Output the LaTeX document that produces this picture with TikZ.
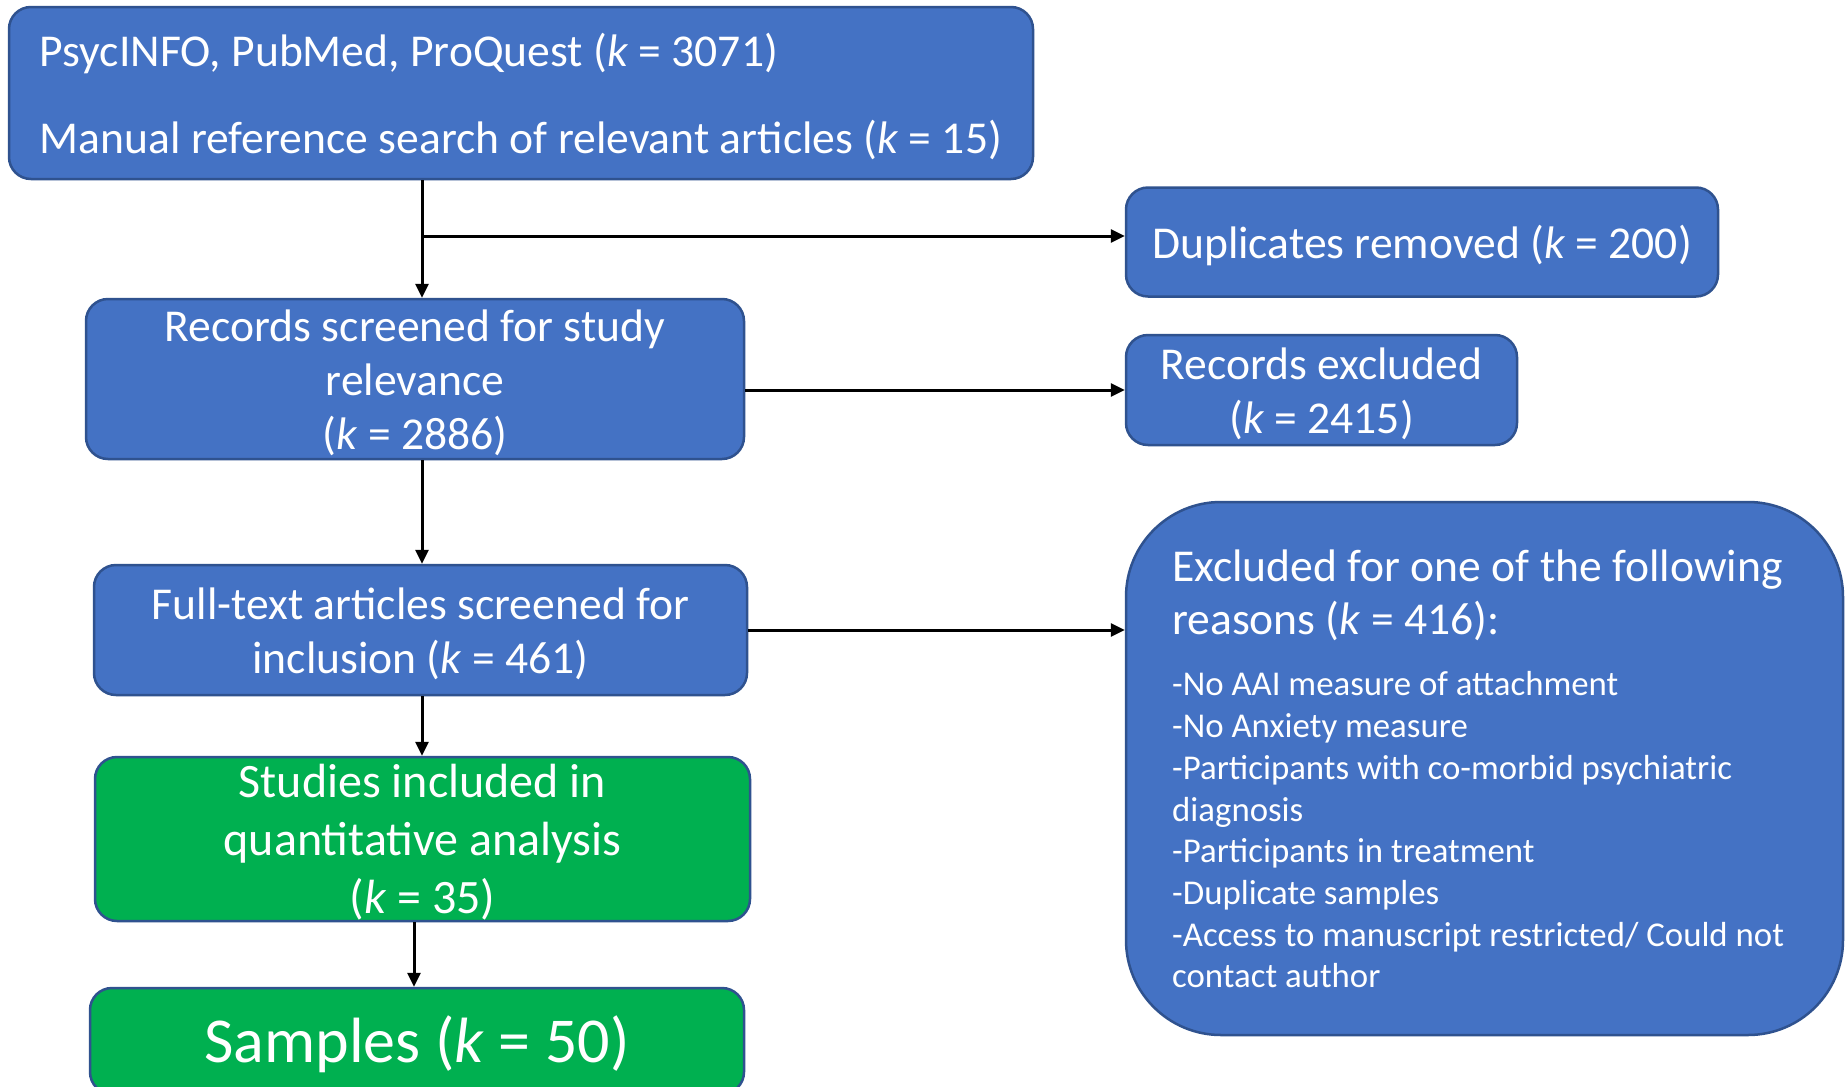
\documentclass[tikz,border=0pt]{standalone}
\usepackage{fontspec}
\setmainfont{Carlito}
\usetikzlibrary{arrows.meta}
\definecolor{blu}{HTML}{4472C4}
\definecolor{grn}{HTML}{00B050}
\definecolor{bordc}{HTML}{2F528F}
\begin{document}
\begin{tikzpicture}[x=1pt,y=-1pt,
  box/.style={draw=bordc, line width=2.5pt, fill=blu, rounded corners=22pt, inner sep=0pt},
  gbox/.style={box, fill=grn},
  lbl/.style={text=white, align=center, inner sep=0pt, yshift=-3.5pt},
  txt/.style={font=\fontsize{45.6}{54}\selectfont},
  arr/.style={line width=3pt, -{Triangle[length=14pt,width=13pt]}}
]
\useasboundingbox (0,0) rectangle (1845,1087);
\fill[white] (0,0) rectangle (1845,1087);

\node[box, minimum width=1024, minimum height=172] (top) at (521,93) {};
\node[lbl, txt, align=left] (topt) at (top.center)
  {PsycINFO, PubMed, ProQuest (\textit{k} = 3071)\\[33pt]
   Manual reference search of relevant articles (\textit{k} = 15)};
\node[box, minimum width=592, minimum height=109] (dup) at (1422,242) {};
\node[lbl, txt] (dupt) at (dup.center) {Duplicates removed (\textit{k} = 200)};
\node[box, minimum width=658, minimum height=160] (rs) at (415,379) {};
\node[lbl, txt] (rst) at (rs.center)
  {Records screened for study\\ relevance\\ (\textit{k} = 2886)};
\node[box, minimum width=391, minimum height=110] (rex) at (1321.5,390) {};
\node[lbl, txt] (rext) at (rex.center) {Records excluded\\ (\textit{k} = 2415)};
\node[box, minimum width=653, minimum height=130] (ft) at (420.5,630) {};
\node[lbl, txt] (ftt) at (ft.center)
  {Full-text articles screened for\\ inclusion (\textit{k} = 461)};
\node[box, rounded corners=95pt, minimum width=717, minimum height=533] (ex) at (1484.5,768.5) {};
\node[text=white, align=left, anchor=west, inner sep=0pt, font=\fontsize{34.8}{41.7}\selectfont] (extxt) at (1172,769)
  {{\fontsize{45.6}{54}\selectfont Excluded for one of the following}\\[11pt]
   {\fontsize{45.6}{54}\selectfont reasons (\textit{k} = 416):}\\[20pt]
   -No AAI measure of attachment\\
   -No Anxiety measure\\
   -Participants with co-morbid psychiatric\\
   diagnosis\\
   -Participants in treatment\\
   -Duplicate samples\\
   -Access to manuscript restricted/ Could not\\
   contact author};
\node[gbox, minimum width=655, minimum height=164] (st) at (422.5,839) {};
\node[lbl, font=\fontsize{48}{58}\selectfont] (stt) at (st.center)
  {Studies included in\\ quantitative analysis\\ (\textit{k} = 35)};
\node[gbox, minimum width=654, minimum height=106] (sa) at (417,1041) {};
\node[lbl, font=\fontsize{64}{70}\selectfont] (sat) at (sa.center) {Samples (\textit{k} = 50)};

\coordinate (a1) at (422,0);
\coordinate (b1) at (422,236);
\coordinate (a2) at (0,390);
\coordinate (a3) at (414,0);
\draw[arr] (top.south -| a1) -- (rs.north -| a1);
\draw[arr] (b1) -- (b1 -| dup.west);
\draw[arr] (rs.east |- a2) -- (rex.west |- a2);
\draw[arr] (rs.south -| a1) -- (ft.north -| a1);
\draw[arr] (ft.east) -- (ft.east -| ex.west);
\draw[arr] (ft.south -| a1) -- (st.north -| a1);
\draw[arr] (st.south -| a3) -- (sa.north -| a3);
\end{tikzpicture}
\end{document}
